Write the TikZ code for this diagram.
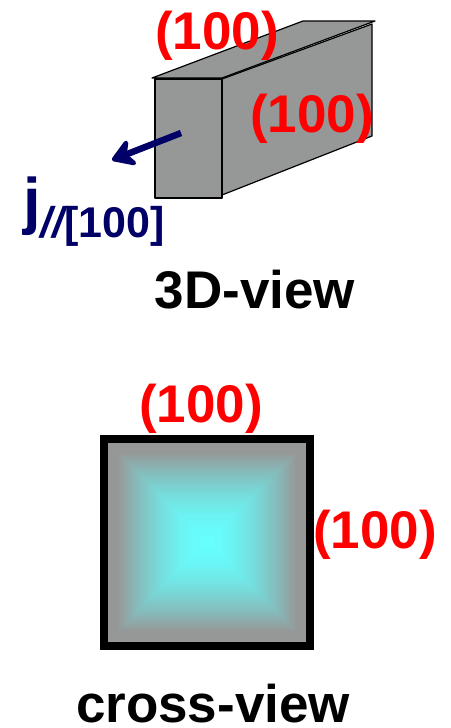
\documentclass[tikz,border=0pt]{standalone}
\usepackage{fontspec}
\setmainfont{Liberation Sans}
\usetikzlibrary{arrows.meta}
\definecolor{boxgray}{RGB}{150,152,152}
\definecolor{glowcyan}{RGB}{102,255,255}
\definecolor{jnavy}{RGB}{0,0,102}

\begin{document}
\begin{tikzpicture}[x=1pt,y=-1pt,
  every node/.style={inner sep=0pt,anchor=base,font=\fontsize{53}{53}\selectfont\bfseries},
  facelabel/.style={text=red},
  boxface/.style={draw=black,fill=boxgray,line width=1.2pt,line join=round}]
\useasboundingbox (0,0) rectangle (450,728);
\draw[boxface] (152,78)--(303,21)--(375,21)--(222,78)--cycle;
\draw[boxface] (222,79)--(372,24)--(372,136)--(222,195)--cycle;
\draw[boxface] (155,79) rectangle (222,198);
\coordinate (jstart) at (181,133);
\coordinate (jend) at (112,160);
\draw[jnavy,line width=6.5pt,-{Stealth[length=27pt,width=34pt,inset=9pt,round]}] (jstart)--(jend);
\node[facelabel] (topface) at (217,49) {(100)};
\node[facelabel] (sideface) at (312,132) {(100)};
\node[text=jnavy,anchor=base west] (jlabel) at (23,222) {\fontsize{63}{63}\selectfont j\raisebox{-15pt}{\fontsize{43}{43}\selectfont\itshape //\upshape[100]}};
\node (threed) at (255,308) {3D-view};
\foreach \i in {0,...,49} {
  \pgfmathsetmacro{\half}{100-2*\i}
  \pgfmathsetmacro{\mixp}{max(0,min(100,100*(1-(\half/90)^1.7)))}
  \fill[glowcyan!\mixp!boxgray] (207-\half,542-\half) rectangle (207+\half,542+\half);
}
\draw[line width=8pt,miter limit=10] (104,439) rectangle (310,646);
\node[facelabel] (topedge) at (201,422) {(100)};
\node[facelabel] (sideedge) at (375,548) {(100)};
\node (cross) at (213,722) {cross-view};
\end{tikzpicture}
\end{document}
